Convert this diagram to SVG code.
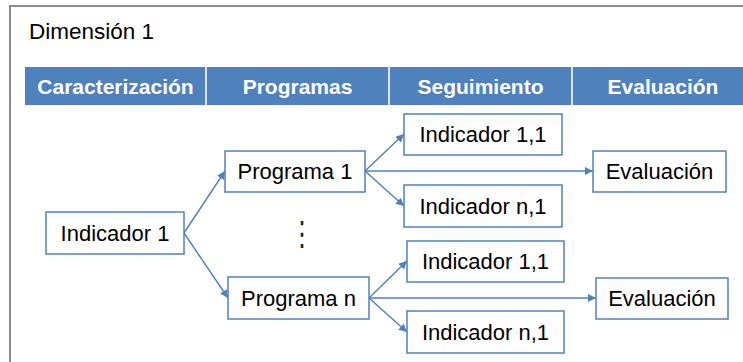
<svg xmlns="http://www.w3.org/2000/svg" width="743" height="362" viewBox="0 0 743 362">
<style>
.frame{fill:none;stroke:#8c8c8c;stroke-width:2}
.hdr{fill:#4f81bd}
.div{stroke:#dbe5f1;stroke-width:2}
.ht{font-family:"Liberation Sans",Arial,sans-serif;font-size:21px;font-weight:bold;fill:#ffffff;text-anchor:middle}
.box{fill:#ffffff;stroke:#4f81bd;stroke-width:1.5}
.t{font-family:"Liberation Sans",Arial,sans-serif;font-size:22px;fill:#000000;text-anchor:middle}
.title{font-family:"Liberation Sans",Arial,sans-serif;font-size:22.5px;fill:#000000}
.c{fill:none;stroke:#4f81bd;stroke-width:1.4;marker-end:url(#ah)}
</style>
<defs>
<marker id="ah" viewBox="0 0 10 10" refX="10" refY="5" markerWidth="9" markerHeight="8" markerUnits="userSpaceOnUse" orient="auto">
<path d="M0,0 L10,5 L0,10 z" fill="#4f81bd"/>
</marker>
</defs>
<rect width="743" height="362" fill="#ffffff"/>
<path class="frame" d="M743,6 H10 V362"/>
<text class="title" x="29" y="39">Dimensión 1</text>
<g id="header">
<rect class="hdr" x="25" y="67" width="718" height="38"/>
<line class="div" x1="206" y1="67" x2="206" y2="105"/>
<line class="div" x1="389" y1="67" x2="389" y2="105"/>
<line class="div" x1="572" y1="67" x2="572" y2="105"/>
<text class="ht" x="115.5" y="94">Caracterización</text>
<text class="ht" x="297.5" y="94">Programas</text>
<text class="ht" x="480.5" y="94">Seguimiento</text>
<text class="ht" x="663" y="94">Evaluación</text>
</g>
<g id="connectors">
<line class="c" x1="184" y1="233" x2="225" y2="171"/>
<line class="c" x1="184" y1="233" x2="228" y2="298"/>
<line class="c" x1="365" y1="171" x2="404" y2="134"/>
<line class="c" x1="365" y1="171" x2="593" y2="171"/>
<line class="c" x1="365" y1="171" x2="404" y2="206"/>
<line class="c" x1="369" y1="298" x2="407" y2="261"/>
<line class="c" x1="369" y1="298" x2="596" y2="298"/>
<line class="c" x1="369" y1="298" x2="407" y2="332"/>
</g>
<g id="indicador1">
<rect class="box" x="46" y="212" width="138" height="42"/>
<text class="t" x="115" y="241">Indicador 1</text>
</g>
<g id="programa1">
<rect class="box" x="225" y="151" width="140" height="41"/>
<text class="t" x="295" y="179">Programa 1</text>
</g>
<g id="ellipsis" transform="translate(302,234) scale(1,1.4)">
<text x="0" y="8" style="font-family:'DejaVu Sans',sans-serif;font-size:24px;fill:#222;text-anchor:middle">⋮</text>
</g>
<g id="programan">
<rect class="box" x="228" y="277" width="141" height="42"/>
<text class="t" x="298.5" y="306">Programa n</text>
</g>
<g id="ind11a">
<rect class="box" x="404" y="114" width="158" height="41"/>
<text class="t" x="483" y="142">Indicador 1,1</text>
</g>
<g id="indn1a">
<rect class="box" x="404" y="185" width="158" height="42"/>
<text class="t" x="483" y="214">Indicador n,1</text>
</g>
<g id="eval1">
<rect class="box" x="593" y="151" width="133" height="41"/>
<text class="t" x="659.5" y="179">Evaluación</text>
</g>
<g id="ind11b">
<rect class="box" x="407" y="241" width="157" height="41"/>
<text class="t" x="485.5" y="269">Indicador 1,1</text>
</g>
<g id="indn1b">
<rect class="box" x="407" y="311" width="157" height="42"/>
<text class="t" x="485.5" y="340">Indicador n,1</text>
</g>
<g id="evaln">
<rect class="box" x="596" y="278" width="132" height="41"/>
<text class="t" x="662" y="306">Evaluación</text>
</g>
</svg>
